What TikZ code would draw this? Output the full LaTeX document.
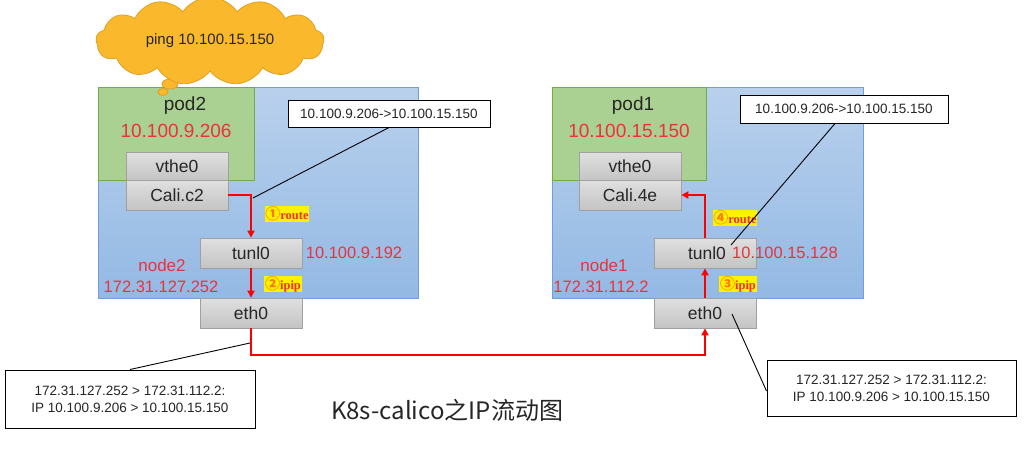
\documentclass[tikz,border=0pt]{standalone}
\usepackage{fontspec}
\setmainfont{Liberation Sans}
\newfontfamily\cjk{Noto Sans CJK SC}
\newfontfamily\serifb{Liberation Serif}
\usetikzlibrary{shapes.symbols,shapes.geometric,arrows.meta}
\definecolor{hostblue}{RGB}{168,197,232}
\definecolor{hostblueb}{RGB}{147,185,228}
\definecolor{hostedge}{RGB}{110,160,215}
\definecolor{podgreen}{RGB}{170,209,145}
\definecolor{podedge}{RGB}{112,173,71}
\definecolor{ifgray}{RGB}{210,210,210}
\definecolor{ifgrayb}{RGB}{196,196,196}
\definecolor{ifedge}{RGB}{160,160,160}
\definecolor{ipred}{RGB}{235,50,60}
\definecolor{cloudfill}{RGB}{250,185,45}
\definecolor{cloudedge}{RGB}{225,160,30}
\definecolor{txt}{RGB}{38,38,38}
\definecolor{circ}{RGB}{255,120,0}
\tikzset{
  hostbox/.style={draw=hostedge, line width=1pt, top color=hostblue!80!white, bottom color=hostblueb, minimum width=#1, minimum height=211pt, inner sep=0pt},
  podbox/.style={draw=podedge, line width=1pt, fill=podgreen, minimum width=156pt, minimum height=93pt, inner sep=0pt},
  ifbox/.style={draw=ifedge, line width=0.8pt, top color=ifgray!70!white, bottom color=ifgrayb, minimum width=102pt, minimum height=#1, inner sep=0pt, font=\fontsize{17.5}{18}\selectfont, text=txt},
  ifbox/.default=30pt,
  podname/.style={font=\fontsize{19}{20}\selectfont, text=txt},
  podip/.style={font=\fontsize{19}{20}\selectfont, text=ipred},
  redtxt/.style={font=\fontsize{16.5}{18}\selectfont, text=ipred},
  calloutbox/.style={draw=black, line width=1pt, fill=white, inner sep=0pt, font=\fontsize{13.5}{17}\selectfont, text=txt, align=center},
  stepbadge/.style={fill=yellow, inner sep=0.6pt, text=ipred, font=\serifb\bfseries\fontsize{12.5}{13}\selectfont},
  redarrow/.style={draw=red, line width=2pt, -{Triangle[length=7pt,width=7pt]}},
  leader/.style={draw=black, line width=0.9pt},
  bubble/.style={ellipse, draw=cloudedge, fill=cloudfill, line width=0.8pt, inner sep=0pt},
}
\newcommand{\cn}[1]{{\cjk\color{circ}\fontsize{15}{15}\selectfont #1}}
\begin{document}
\begin{tikzpicture}[x=1pt,y=-1pt]
\useasboundingbox[fill=white] (0,0) rectangle (1031,448);

% hosts
\node[hostbox=320pt] (host2) at (258,192.5) {};
\node[hostbox=311pt] (host1) at (707.5,192.5) {};
\node[podbox] (pod2) at (176,133.5) {};
\node[podbox, minimum width=154pt] (pod1) at (629,133.5) {};

% cloud
\node[bubble, minimum width=16pt, minimum height=10pt] (b1) at (170,84) {};
\node[bubble, minimum width=10pt, minimum height=7pt] (b2) at (163,92) {};
\node[cloud, cloud puffs=13, cloud puff arc=115, draw=cloudedge, fill=cloudfill, line width=0.8pt,
      minimum width=228pt, minimum height=88pt, cloud ignores aspect,
      font=\fontsize{15}{16}\selectfont, text=txt] (ping) at (210,41) {ping 10.100.15.150};

% left side
\node[podname] (pod2name) at (185,106) {pod2};
\node[podip] (pod2ip) at (176,131) {10.100.9.206};
\node[ifbox=28pt] (vthe2) at (177,166) {vthe0};
\node[ifbox] (cali2) at (177,195) {Cali.c2};
\node[ifbox] (tunl2) at (251,253) {tunl0};
\node[ifbox] (eth2) at (251,313) {eth0};
\node[redtxt] (tunl2ip) at (354,253) {10.100.9.192};
\node[redtxt, font=\fontsize{17}{18}\selectfont] (node2name) at (162,265) {node2};
\node[redtxt] (node2ip) at (161,287) {172.31.127.252};
\node[stepbadge] (step1) at (287,214) {\cn{①}route};
\node[stepbadge] (step2) at (283,284) {\cn{②}ipip};

% right side
\node[podname] (pod1name) at (633,106) {pod1};
\node[podip] (pod1ip) at (629,131) {10.100.15.150};
\node[ifbox=28pt] (vthe1) at (630,166) {vthe0};
\node[ifbox] (cali1) at (630,195) {Cali.4e};
\node[ifbox] (tunl1) at (705,253) {\hspace*{4pt}tunl0};
\node[ifbox] (eth1) at (705,313) {eth0};
\node[redtxt] (tunl1ip) at (785,253) {10.100.15.128};
\node[redtxt, font=\fontsize{17}{18}\selectfont] (node1name) at (604,265) {node1};
\node[redtxt] (node1ip) at (601,287) {172.31.112.2};
\node[stepbadge] (step4) at (735,218) {\cn{④}route};
\node[stepbadge] (step3) at (738,284) {\cn{③}ipip};

% callouts
\node[calloutbox, minimum width=202pt, minimum height=27pt] (co1) at (389,113.5) {10.100.9.206->10.100.15.150};
\node[calloutbox, minimum width=208pt, minimum height=28pt] (co3) at (844,109) {10.100.9.206->10.100.15.150};
\node[calloutbox, minimum width=250pt, minimum height=58pt] (co2) at (130,399) {172.31.127.252 > 172.31.112.2:\\IP 10.100.9.206 > 10.100.15.150};
\node[calloutbox, minimum width=249pt, minimum height=56pt] (co4) at (891.5,388) {172.31.127.252 > 172.31.112.2:\\IP 10.100.9.206 > 10.100.15.150};

\coordinate (t1) at (253,198);
\coordinate (t2) at (250,343);
\coordinate (t3) at (731,245);
\coordinate (t4) at (732,314);
\draw[leader] (co1.south) -- (t1);
\draw[leader] (co2.north) -- (t2);
\draw[leader] ([xshift=-9pt]co3.south) -- (t3);
\draw[leader] ([yshift=-3pt]co4.west) -- (t4);

% red flow
\draw[redarrow] (cali2.east) -| (tunl2.north);
\draw[redarrow] (tunl2.south) -- (eth2.north);
\draw[redarrow] (eth2.south) -- ++(0,27) -| (eth1.south);
\draw[redarrow] (eth1.north) -- (tunl1.south);
\draw[redarrow] (tunl1.north) |- (cali1.east);

% title
\node[font=\cjk\fontsize{24}{26}\selectfont, text=txt] (title) at (447,410) {K8s-calico之IP流动图};
\end{tikzpicture}
\end{document}
